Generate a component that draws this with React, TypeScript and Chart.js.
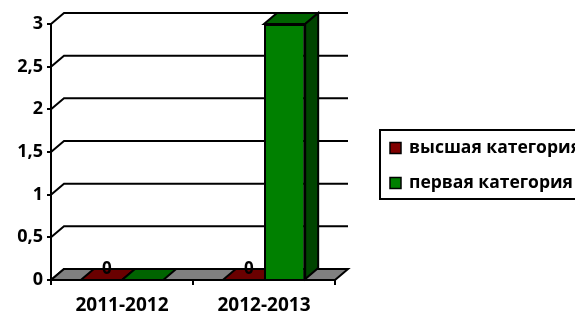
import React, { useEffect, useRef } from "react";
import { Chart, registerables } from "chart.js";

Chart.register(...registerables);

const categories = ["2011-2012", "2012-2013"];
const seriesNames = ["высшая категория", "первая категория"];
const highestValues = [0, 0];
const firstValues = [0, 3];
const yTicks = [0, 0.5, 1, 1.5, 2, 2.5, 3];

const FONT = "'Open Sans', sans-serif";
const DX = 13;
const DY = -11;

const frontColors = ["#800000", "#008000"];
const topColors = ["#6a0000", "#006400"];
const sideColors = ["#4d0000", "#004400"];

const threeD = {
  id: "threeD",
  beforeDatasetsDraw(chart: any) {
    const { ctx, chartArea } = chart;
    const { left, right, bottom } = chartArea;
    const y = chart.scales.y;
    ctx.save();
    ctx.lineWidth = 2;
    ctx.strokeStyle = "#000";
    ctx.lineJoin = "miter";
    // back wall grid lines with connectors
    y.ticks.forEach((t: any) => {
      const py = y.getPixelForValue(t.value);
      ctx.beginPath();
      ctx.moveTo(left, py);
      ctx.lineTo(left + DX, py + DY);
      ctx.lineTo(right + DX, py + DY);
      ctx.stroke();
    });
    // floor
    ctx.beginPath();
    ctx.moveTo(left, bottom);
    ctx.lineTo(right, bottom);
    ctx.lineTo(right + DX, bottom + DY);
    ctx.lineTo(left + DX, bottom + DY);
    ctx.closePath();
    ctx.fillStyle = "#808080";
    ctx.fill();
    ctx.stroke();
    // top and side faces of every bar, series in order
    chart.data.datasets.forEach((_: any, di: number) => {
      const meta = chart.getDatasetMeta(di);
      meta.data.forEach((bar: any) => {
        const p = bar.getProps(["x", "y", "base", "width"], true);
        const l = p.x - p.width / 2;
        const r = p.x + p.width / 2;
        ctx.beginPath();
        ctx.moveTo(l, p.y);
        ctx.lineTo(r, p.y);
        ctx.lineTo(r + DX, p.y + DY);
        ctx.lineTo(l + DX, p.y + DY);
        ctx.closePath();
        ctx.fillStyle = topColors[di];
        ctx.fill();
        ctx.stroke();
        if (Math.abs(p.base - p.y) > 0.5) {
          ctx.beginPath();
          ctx.moveTo(r, p.y);
          ctx.lineTo(r + DX, p.y + DY);
          ctx.lineTo(r + DX, p.base + DY);
          ctx.lineTo(r, p.base);
          ctx.closePath();
          ctx.fillStyle = sideColors[di];
          ctx.fill();
          ctx.stroke();
        }
      });
    });
    ctx.restore();
  },
  afterDatasetsDraw(chart: any) {
    const { ctx } = chart;
    const meta = chart.getDatasetMeta(0);
    ctx.save();
    ctx.fillStyle = "#000";
    ctx.font = `bold 17px ${FONT}`;
    ctx.textAlign = "center";
    ctx.textBaseline = "middle";
    meta.data.forEach((bar: any, i: number) => {
      const p = bar.getProps(["x", "y"], true);
      ctx.fillText(String(highestValues[i]), p.x + DX / 2 - 1, p.y - 11);
    });
    ctx.restore();
  },
  afterDraw(chart: any) {
    const { ctx } = chart;
    ctx.save();
    ctx.lineWidth = 2;
    ctx.strokeStyle = "#000";
    ctx.strokeRect(380, 130, 240, 69);
    const rows = [148, 183];
    ctx.font = `bold 17.5px ${FONT}`;
    ctx.textBaseline = "middle";
    ctx.textAlign = "left";
    seriesNames.forEach((name, i) => {
      ctx.fillStyle = frontColors[i];
      ctx.fillRect(390, rows[i] - 5.5, 11, 11);
      ctx.lineWidth = 1.5;
      ctx.strokeRect(390, rows[i] - 5.5, 11, 11);
      ctx.fillStyle = "#000";
      ctx.fillText(name, 409, rows[i]);
    });
    ctx.restore();
  },
};

export default function App() {
  const ref = useRef<HTMLCanvasElement>(null);
  useEffect(() => {
    document.body.style.margin = "0";
    const chart = new Chart(ref.current as HTMLCanvasElement, {
      type: "bar",
      data: {
        labels: categories,
        datasets: [
          {
            label: seriesNames[0],
            data: highestValues,
            backgroundColor: frontColors[0],
            borderColor: "#000",
            borderWidth: 2,
            categoryPercentage: 0.58,
            barPercentage: 1,
          },
          {
            label: seriesNames[1],
            data: firstValues,
            backgroundColor: frontColors[1],
            borderColor: "#000",
            borderWidth: 2,
            categoryPercentage: 0.58,
            barPercentage: 1,
          },
        ],
      },
      options: {
        responsive: false,
        animation: false,
        layout: { padding: { top: 24, left: 0, right: 240, bottom: 0 } },
        plugins: { legend: { display: false }, tooltip: { enabled: false } },
        scales: {
          x: {
            grid: { drawOnChartArea: false, color: "#000", lineWidth: 2, tickLength: 5, offset: true },
            border: { display: true, color: "#000", width: 2 },
            ticks: { color: "#000", font: { family: FONT, size: 19, weight: "bold" }, padding: 9, maxRotation: 0 },
            afterFit: (s: any) => {
              s.height = 33;
            },
          },
          y: {
            min: 0,
            max: 3,
            afterBuildTicks: (s: any) => {
              s.ticks = yTicks.map((v) => ({ value: v }));
            },
            grid: { drawOnChartArea: false, color: "#000", lineWidth: 2, tickLength: 4 },
            border: { display: true, color: "#000", width: 2 },
            ticks: {
              color: "#000",
              padding: 4,
              font: { family: FONT, size: 18, weight: "bold" },
              callback: (v: any) => String(v).replace(".", ","),
            },
            afterFit: (s: any) => {
              s.width = 51;
            },
          },
        },
      },
      plugins: [threeD],
    });
    return () => chart.destroy();
  }, []);
  return (
    <div style={{ width: 575, height: 313, background: "#fff" }}>
      <canvas ref={ref} width={575} height={313} />
    </div>
  );
}
